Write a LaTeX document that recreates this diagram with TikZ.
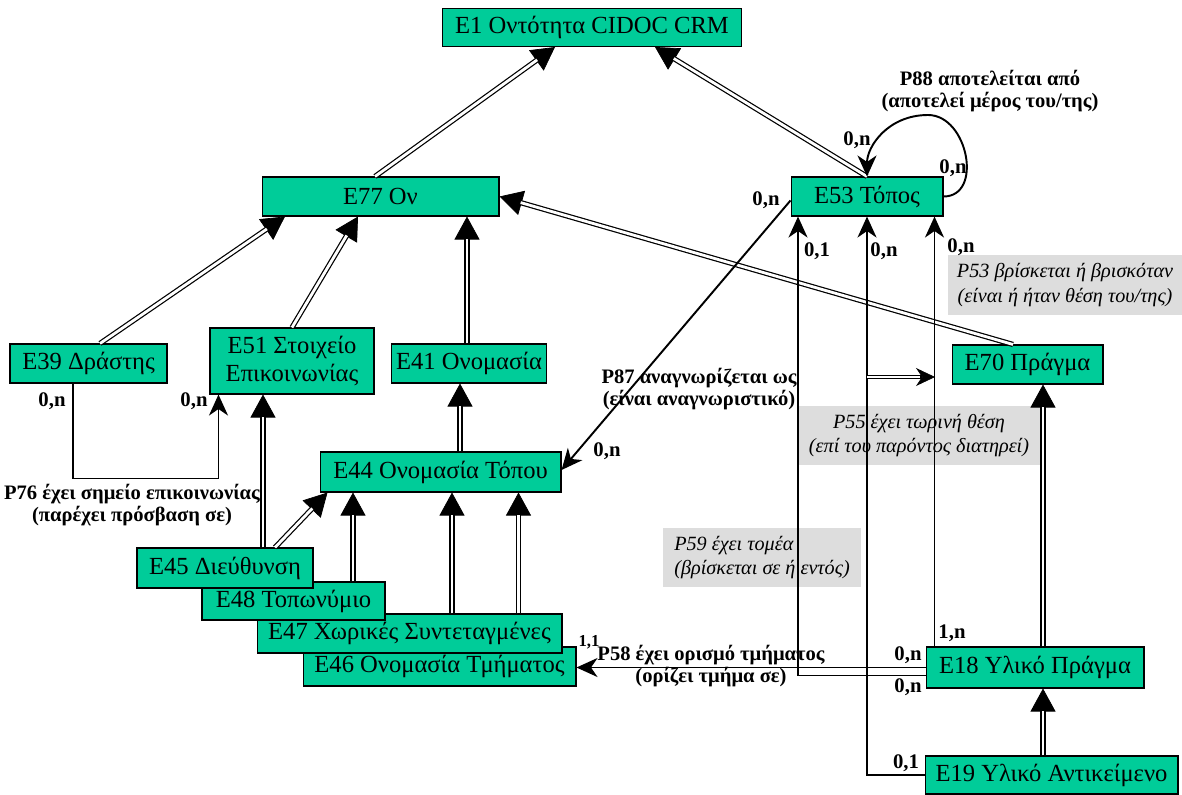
\documentclass[tikz,border=0pt]{standalone}
\usepackage{fontspec}
\setmainfont{Liberation Serif}
\usepackage{tikz}
\usetikzlibrary{positioning}
\usetikzlibrary{arrows.meta}
\definecolor{crmgreen}{RGB}{0,204,153}
\definecolor{notegray}{RGB}{221,221,221}
\begin{document}
\begin{tikzpicture}[
  x=0.02cm, y=-0.02cm,
  cls/.style={draw,fill=crmgreen,line width=0.6pt,inner sep=0pt,align=center,font=\fontsize{14}{15.5}\selectfont},
  isa/.style={line width=3pt,-{Triangle[length=0.46cm,width=0.5cm,line width=0.4pt]},
    postaction={draw=white,line width=1.6pt,-,shorten >=0.44cm}},
  prop/.style={line width=1.1pt,-{Stealth[length=0.42cm,width=0.38cm,inset=0.13cm]}},
  subprop/.style={line width=2.7pt,-{Stealth[length=0.38cm,width=0.36cm,inset=0.12cm,line width=0.4pt]},
    postaction={draw=white,line width=1.4pt,-,shorten >=0.3cm}},
  card/.style={inner sep=0pt,font=\fontsize{11.8}{13}\selectfont\bfseries},
  plabel/.style={inner sep=0pt,align=center,font=\fontsize{11.7}{13}\selectfont\bfseries},
  note/.style={fill=notegray,inner sep=0pt,align=center,font=\fontsize{11.5}{14}\selectfont\itshape}
]
\useasboundingbox (0,0) rectangle (1182,794);

\node[note,minimum width=4.68cm,minimum height=1.2cm] (n53) at (1065,285) {P53 βρίσκεται ή βρισκόταν\\(είναι ή ήταν θέση του/της)};
\node[note,minimum width=4.84cm,minimum height=1.18cm] (n55) at (919,435.5) {P55 έχει τωρινή θέση\\(επί του παρόντος διατηρεί)};
\node[note,minimum width=3.96cm,minimum height=1.18cm,align=left] (n59) at (762,557.5) {P59 έχει τομέα\\(βρίσκεται σε ή εντός)};

\node[cls,minimum width=5.98cm,minimum height=0.76cm] (E1) at (592,27.5) {E1 Οντότητα CIDOC CRM};
\node[cls,minimum width=4.74cm,minimum height=0.78cm] (E77) at (380.5,196.5) {E77 Ον};
\node[cls,minimum width=3.04cm,minimum height=0.78cm] (E53) at (867,196.5) {E53 Τόπος};
\node[cls,minimum width=3.14cm,minimum height=0.78cm] (E39) at (88.5,363.5) {E39 Δράστης};
\node[cls,minimum width=3.28cm,minimum height=1.32cm] (E51) at (292,361) {E51 Στοιχείο\\Επικοινωνίας};
\node[cls,minimum width=3.1cm,minimum height=0.78cm] (E41) at (469,363.5) {E41 Ονομασία};
\node[cls,minimum width=4.82cm,minimum height=0.8cm] (E44) at (440.5,472) {E44 Ονομασία Τόπου};
\node[cls,minimum width=5.46cm,minimum height=0.78cm] (E46) at (439.5,666.5) {E46 Ονομασία Τμήματος};
\node[cls,minimum width=6.1cm,minimum height=0.78cm] (E47) at (409.5,633.5) {E47 Χωρικές Συντεταγμένες};
\node[cls,minimum width=3.66cm,minimum height=0.76cm] (E48) at (293.5,601) {E48 Τοπωνύμιο};
\node[cls,minimum width=3.52cm,minimum height=0.8cm] (E45) at (225,568) {E45 Διεύθυνση};
\node[cls,minimum width=3.02cm,minimum height=0.78cm] (E70) at (1027.5,364.5) {E70 Πράγμα};
\node[cls,minimum width=4.36cm,minimum height=0.82cm] (E18) at (1035,667.5) {E18 Υλικό Πράγμα};
\node[cls,minimum width=5.06cm,minimum height=0.76cm] (E19) at (1051.5,775) {E19 Υλικό Αντικείμενο};

\draw[isa] ([xshift=-0.11cm]E77.north) -- ([xshift=-0.74cm]E1.south);
\draw[isa] (E53.north) -- ([xshift=1.26cm]E1.south);
\draw[isa] ([xshift=0.23cm]E39.north) -- ([xshift=-1.91cm]E77.south);
\draw[isa] (E51.north) -- ([xshift=-0.45cm]E77.south);
\draw[isa] ([xshift=-0.04cm]E41.north) -- ([xshift=-0.04cm]E41.north |- E77.south);
\draw[isa] ([xshift=-0.29cm]E70.north) -- (E77.east);
\draw[isa] ([xshift=0.39cm]E44.north) -- ([xshift=0.39cm]E44.north |- E41.south);
\draw[isa] ([xshift=0.76cm]E45.north) -- ([xshift=0.76cm]E45.north |- E51.south);
\draw[isa] ([xshift=1cm]E45.north) -- ([xshift=0.16cm]E44.south west);
\draw[isa] ([xshift=1.19cm]E48.north) -- ([xshift=1.19cm]E48.north |- E44.south);
\draw[isa] ([xshift=0.85cm]E47.north) -- ([xshift=0.85cm]E47.north |- E44.south);
\draw[isa] ([xshift=1.58cm]E46.north |- E47.north) -- ([xshift=1.58cm]E46.north |- E44.south);
\draw[isa] ([xshift=0.16cm]E18.north) -- ([xshift=0.16cm]E18.north |- E70.south);
\draw[isa] ([xshift=-0.17cm]E19.north) -- ([xshift=-0.17cm]E19.north |- E18.south);

\draw[prop] (E53.east) .. controls +(40,0) and +(40,0) .. (928,115) .. controls +(-40,0) and +(0,-30) .. (E53.north);
\draw[prop] ([yshift=-0.08cm]E53.west) -- ([yshift=0.04cm]E44.east);
\draw[prop] ([xshift=-0.31cm]E39.south) -- ++(0,95) -| ([xshift=0.18cm]E51.south west);
\draw[prop] (E18.west) -- (E18.west -| E46.east);
\draw[prop] ([yshift=-0.16cm]E18.west) -| ([xshift=-1.38cm]E53.south);
\draw[prop] ([xshift=0.18cm]E18.north west) -- ([xshift=0.18cm]E18.north west |- E53.south);
\draw[prop] (E19.west) -| (E53.south);
\coordinate (p55a) at (867,377);
\coordinate (p55b) at (935,377);
\draw[subprop] (p55a) -- (p55b);

\node[plabel] (p88) at (990,91) {P88 αποτελείται από\\(αποτελεί μέρος του/της)};
\node[plabel] (p87) at (699,389) {P87 αναγνωρίζεται ως\\(είναι αναγνωριστικό)};
\node[plabel] (p76) at (132,505) {P76 έχει σημείο επικοινωνίας\\(παρέχει πρόσβαση σε)};
\node[plabel] (p58) at (711,666) {P58 έχει ορισμό τμήματος\\(ορίζει τμήμα σε)};

\node[card] (c88a) at (857,140) {0,n};
\node[card] (c88b) at (953,168) {0,n};
\node[card] (c87a) at (766,200) {0,n};
\node[card] (c87b) at (607,451) {0,n};
\node[card] (c76a) at (52,401) {0,n};
\node[card] (c76b) at (194,401) {0,n};
\node[card] (c59a) at (817,251) {0,1};
\node[card] (c55a) at (884,251) {0,n};
\node[card] (c53a) at (961,247) {0,n};
\node[card,font=\fontsize{9.5}{10}\selectfont\bfseries] (c58a) at (589,642) {1,1};
\node[card] (c58b) at (908,655) {0,n};
\node[card] (c59b) at (908,687) {0,n};
\node[card] (c53b) at (952,633) {1,n};
\node[card] (c55b) at (906,763) {0,1};
\end{tikzpicture}
\end{document}
